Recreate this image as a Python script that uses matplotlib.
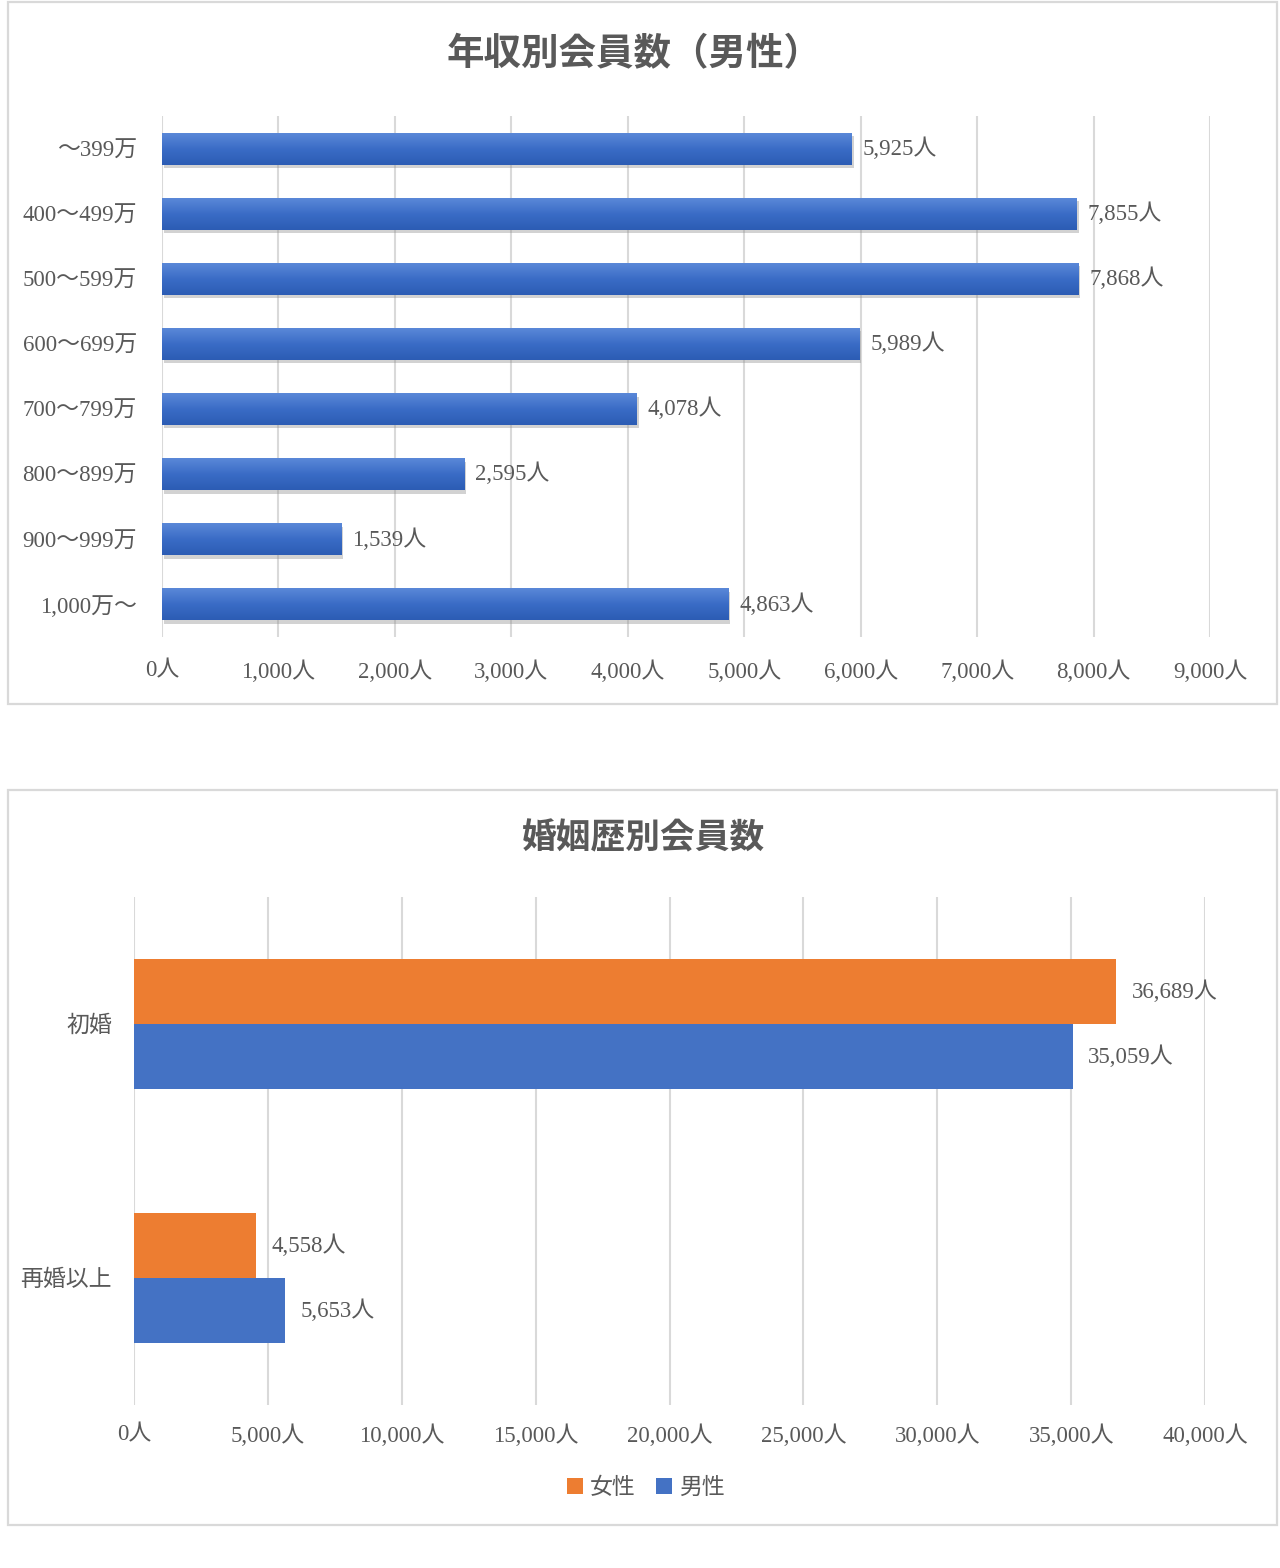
import numpy as np
import matplotlib
matplotlib.use("Agg")
import matplotlib.pyplot as plt
import matplotlib.patheffects as pe
from matplotlib.patches import Rectangle
from matplotlib.colors import LinearSegmentedColormap

# ---------------- data ----------------
income_labels = ["～399万", "400～499万", "500～599万", "600～699万",
                 "700～799万", "800～899万", "900～999万", "1,000万～"]
income_male = [5925, 7855, 7868, 5989, 4078, 2595, 1539, 4863]
income_ticks = [0, 1000, 2000, 3000, 4000, 5000, 6000, 7000, 8000, 9000]

marital_labels = ["初婚", "再婚以上"]
marital_female = [36689, 4558]
marital_male = [35059, 5653]
marital_ticks = [0, 5000, 10000, 15000, 20000, 25000, 30000, 35000, 40000]

# ---------------- style ----------------
FONT = ["Liberation Serif", "Noto Sans CJK JP"]
TITLE_FONT = ["Noto Sans CJK JP", "DejaVu Sans"]
TXT = "#595959"
GRID = "#d9d9d9"
ORANGE = "#ED7D31"
BLUE = "#4472C4"
plt.rcParams["font.family"] = FONT

W, H = 1280, 1568
fig = plt.figure(figsize=(W / 100, H / 100), dpi=100)
fig.patch.set_facecolor("white")


def fx(px):
    return px / W


def fy(py):
    return 1 - py / H


def border(x0, y0, x1, y1):
    fig.add_artist(Rectangle((fx(x0), fy(y1)), fx(x1) - fx(x0), fy(y0) - fy(y1),
                             transform=fig.transFigure, fill=False,
                             edgecolor=GRID, lw=1.6, zorder=0))


def fmt(v):
    return f"{v:,}人"


def style_axes(ax):
    for s in ax.spines.values():
        s.set_visible(False)
    ax.tick_params(axis="both", length=0, labelsize=16.5, labelcolor=TXT)
    ax.xaxis.grid(True, color=GRID, lw=1.5)
    ax.set_axisbelow(True)


# ---------------- top chart ----------------
border(8, 2, 1277, 704)
ax1 = fig.add_axes([fx(162), fy(637), fx(1210) - fx(162), fy(116) - fy(637)])
style_axes(ax1)
ypos = np.arange(len(income_labels))
bars = ax1.barh(ypos, income_male, height=0.49, color="#3565be", zorder=2,
                path_effects=[pe.SimplePatchShadow(offset=(1.5, -2.5), shadow_rgbFace="#909090", alpha=0.4),
                              pe.Normal()])
cmap = LinearSegmentedColormap.from_list("g", ["#5a88d8", "#3a6cc6", "#2c5cb4"])
grad = np.linspace(0, 1, 64).reshape(-1, 1)
for b in bars:
    x, y, w, h = b.get_x(), b.get_y(), b.get_width(), b.get_height()
    im = ax1.imshow(grad, cmap=cmap, aspect="auto", extent=(x, x + w, y + h, y),
                    origin="upper", zorder=3)
    im.set_clip_path(b)
for b, v in zip(bars, income_male):
    ax1.annotate(fmt(v), (v, b.get_y() + b.get_height() / 2), xytext=(8, 0),
                 textcoords="offset points", va="center", ha="left",
                 fontsize=16.5, color=TXT, zorder=4)
ax1.set_xlim(0, 9000)
ax1.set_ylim(len(income_labels) - 0.5, -0.5)
ax1.set_xticks(income_ticks)
ax1.set_xticklabels([fmt(t) for t in income_ticks])
ax1.set_yticks(ypos)
ax1.set_yticklabels(income_labels)
ax1.tick_params(axis="y", pad=18)
ax1.tick_params(axis="x", pad=17)
fig.text(fx(634), fy(54), "年収別会員数（男性）", ha="center", va="center",
         fontsize=27, fontweight="bold", color=TXT, family=TITLE_FONT)

# ---------------- bottom chart ----------------
border(8, 790, 1277, 1525)
ax2 = fig.add_axes([fx(134), fy(1405), fx(1205) - fx(134), fy(897) - fy(1405)])
style_axes(ax2)
ypos2 = np.arange(len(marital_labels))
bh = 0.257
bf = ax2.barh(ypos2 - bh / 2, marital_female, height=bh, color=ORANGE, label="女性", zorder=2)
bm = ax2.barh(ypos2 + bh / 2, marital_male, height=bh, color=BLUE, label="男性", zorder=2)
for bs, vals in ((bf, marital_female), (bm, marital_male)):
    for b, v in zip(bs, vals):
        ax2.annotate(fmt(v), (v, b.get_y() + b.get_height() / 2), xytext=(11, 0),
                     textcoords="offset points", va="center", ha="left",
                     fontsize=16.5, color=TXT)
ax2.set_xlim(0, 40000)
ax2.set_ylim(len(marital_labels) - 0.5, -0.5)
ax2.set_xticks(marital_ticks)
ax2.set_xticklabels([fmt(t) for t in marital_ticks])
ax2.set_yticks(ypos2)
ax2.set_yticklabels(marital_labels)
ax2.tick_params(axis="y", pad=16)
ax2.tick_params(axis="x", pad=14)
fig.text(fx(643), fy(838), "婚姻歴別会員数", ha="center", va="center",
         fontsize=25, fontweight="bold", color=TXT, family=TITLE_FONT)
leg = fig.legend(handles=[bf, bm], labels=["女性", "男性"], loc="center",
                 bbox_to_anchor=(fx(646), fy(1488)), ncol=2, frameon=False,
                 fontsize=16.5, handlelength=0.7, handleheight=0.7, handletextpad=0.3,
                 columnspacing=0.9, labelcolor=TXT)

fig.savefig("out.png", dpi=100, facecolor="white")
